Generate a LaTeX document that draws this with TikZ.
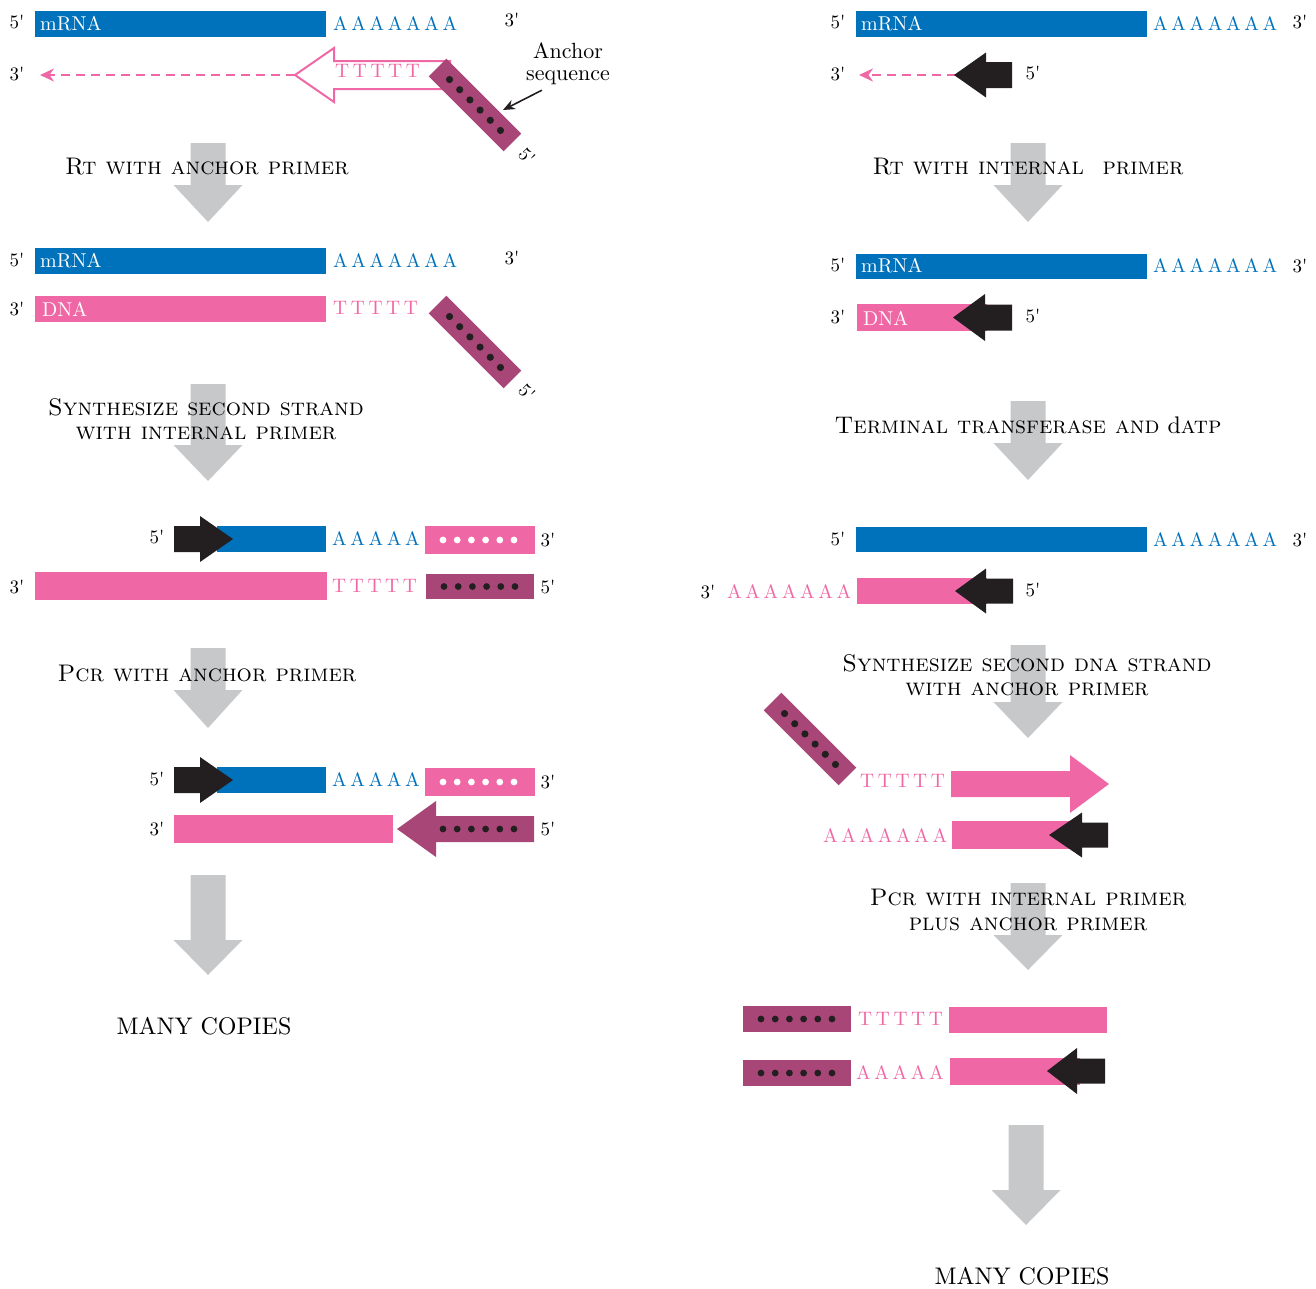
\documentclass[tikz,border=0pt]{standalone}
\usepackage{fontspec}
\setmainfont{lmroman10-regular.otf}[SmallCapsFont=lmromancaps10-regular.otf]
\usetikzlibrary{arrows.meta}

\definecolor{mblue}{RGB}{0,113,187}
\definecolor{mpink}{RGB}{239,104,165}
\definecolor{mpurple}{RGB}{168,71,119}
\definecolor{mblack}{RGB}{35,31,32}
\definecolor{arrowgray}{RGB}{199,200,202}

% letter-spaced base sequence
\newdimen\lspgap \lspgap=3.6pt
\def\lspend{lsp-end}
\newcommand\lsp[1]{\lspgo#1\lspend}
\def\lspgo#1{\ifx#1\lspend\else#1\expandafter\lspnext\fi}
\def\lspnext#1{\ifx#1\lspend\else\kern\lspgap#1\expandafter\lspnext\fi}

% broad grey process arrow: centre x, top y, head start y, tip y
\newcommand\grayarrow[4]{%
  \fill[arrowgray] (#1-17.5,#2) -- (#1+17.5,#2) -- (#1+17.5,#3) -- (#1+34.5,#3)
    -- (#1,#4) -- (#1-34.5,#3) -- (#1-17.5,#3) -- cycle;}

% horizontal block arrow: style, tip x, head base x, tail x, mid y, shaft half height, head half height
\newcommand\hprimer[7]{%
  \path[#1] (#4,#5-#6) -- (#3,#5-#6) -- (#3,#5-#7) -- (#2,#5) -- (#3,#5+#7)
    -- (#3,#5+#6) -- (#4,#5+#6) -- cycle;}

% box with six dots: box colour, dot colour, x1, y1, x2, y2
\newcommand\dotbox[6]{%
  \fill[#1] (#3,#4) rectangle (#5,#6);
  \foreach \k in {0,...,5} \fill[#2] ({#3+18+14.2*\k},{(#4+#6)/2}) circle (3.4pt);}

% tilted anchor sequence: centre x, centre y
\newcommand\anchorbox[2]{%
  \begin{scope}[shift={(#1,#2)}, rotate=-45]
    \fill[mpurple] (-53,-12.5) rectangle (53,12.5);
    \foreach \k in {0,...,5} \fill[mblack] ({-36+14.4*\k},0) circle (3.6pt);
  \end{scope}}

\tikzset{
  endlbl/.style={font=\fontsize{19}{19}\selectfont, inner sep=0pt},
  onbar/.style={font=\fontsize{20}{20}\selectfont, text=white, inner sep=0pt, anchor=west},
  seqblue/.style={font=\fontsize{19.5}{19.5}\selectfont, text=mblue, inner sep=0pt, anchor=west},
  seqpink/.style={font=\fontsize{19.5}{19.5}\selectfont, text=mpink, inner sep=0pt, anchor=west},
  steplbl/.style={font=\fontsize{24}{24.5}\selectfont, align=center, inner sep=0pt},
  copies/.style={font=\fontsize{24}{24}\selectfont, inner sep=0pt},
  pinkdash/.style={mpink, line width=2.4pt, dash pattern=on 9pt off 6pt,
    -{Stealth[length=14pt,width=13pt]}},
  blackprimer/.style={fill=mblack},
}

\begin{document}
\begin{tikzpicture}[x=1pt,y=-1pt]
\useasboundingbox (0,0) rectangle (1316,1288);

%%%%%%%%%%%%%%%% left column: anchor primer at the 3' end
% grey step arrows
\grayarrow{208}{143}{185}{222}
\grayarrow{208}{384}{445}{481}
\grayarrow{208}{648}{690}{728}
\grayarrow{208}{875}{940}{975}

% mRNA with anchor primer annealed to the poly(A) tail
\node[endlbl] (l1five) at (17,22) {5\textquotesingle};
\fill[mblue] (35,11) rectangle (326,37);
\node[onbar] (l1m) at (40,24) {mRNA};
\node[seqblue] (l1A) at (333,24) {\lsp{AAAAAAA}};
\node[endlbl] (l1three) at (512,20) {3\textquotesingle};

\node[endlbl] (l2three) at (17,74) {3\textquotesingle};
\coordinate (l2tip) at (40,75);
\coordinate (l2start) at (295,75);
\draw[pinkdash] (l2start) -- (l2tip);
\hprimer{draw=mpink, fill=white, line width=2pt}{295}{334}{450}{75}{14}{27}
\node[seqpink] (l2T) at (335,71) {\lsp{TTTTT}};
\anchorbox{475}{105}
\coordinate (anc1) at (503,110);
\node[endlbl, rotate=-45] (l2five) at (527,156) {5\textquotesingle};
\node[font=\fontsize{22}{22}\selectfont, align=center, inner sep=0pt] (anchorlbl) at (568,64) {Anchor\\sequence};
\draw[mblack, line width=1.6pt, -{Stealth[length=12pt,width=10pt]}]
  ([xshift=16pt,yshift=-5pt]anchorlbl.south west) -- (anc1);

\node[steplbl] (s1) at (207,167) {\textsc{Rt with anchor primer}};

% first strand made
\node[endlbl] (l3five) at (17,260) {5\textquotesingle};
\fill[mblue] (35,248) rectangle (326,274);
\node[onbar] (l3m) at (40,261) {mRNA};
\node[seqblue] (l3A) at (333,261) {\lsp{AAAAAAA}};
\node[endlbl] (l3three) at (512,258) {3\textquotesingle};

\node[endlbl] (l4three) at (17,309) {3\textquotesingle};
\fill[mpink] (35,296) rectangle (326,322);
\node[onbar] (l4d) at (42,309) {DNA};
\node[seqpink] (l4T) at (333,308) {\lsp{TTTTT}};
\anchorbox{475}{342}
\node[endlbl, rotate=-45] (l4five) at (527,392) {5\textquotesingle};

\node[steplbl] (s2) at (206,419) {\textsc{Synthesize second strand}\\\textsc{with internal primer}};

% second strand from the internal primer
\node[endlbl] (l5five) at (157,537) {5\textquotesingle};
\fill[mblue] (217,526) rectangle (326,552);
\hprimer{blackprimer}{233}{200}{174}{539}{13}{23}
\node[seqblue] (l5A) at (332,539) {\lsp{AAAAA}};
\dotbox{mpink}{white}{425}{526}{535}{554}
\node[endlbl] (l5three) at (548,540) {3\textquotesingle};

\node[endlbl] (l6three) at (17,587) {3\textquotesingle};
\fill[mpink] (35,572) rectangle (327,600);
\node[seqpink] (l6T) at (332,586) {\lsp{TTTTT}};
\dotbox{mpurple}{mblack}{426}{574}{534}{599}
\node[endlbl] (l6five) at (548,587) {5\textquotesingle};

\node[steplbl] (s3) at (207,673) {\textsc{Pcr with anchor primer}};

% PCR with both primers
\node[endlbl] (l7five) at (157,779) {5\textquotesingle};
\fill[mblue] (217,767) rectangle (326,793);
\hprimer{blackprimer}{233}{200}{174}{780}{13}{23}
\node[seqblue] (l7A) at (332,780) {\lsp{AAAAA}};
\dotbox{mpink}{white}{425}{768}{535}{796}
\node[endlbl] (l7three) at (548,782) {3\textquotesingle};

\node[endlbl] (l8three) at (157,829) {3\textquotesingle};
\fill[mpink] (174,815) rectangle (393,843);
\hprimer{fill=mpurple}{397}{436}{534}{829}{13}{28}
\foreach \k in {0,...,5} \fill[mblack] ({443+14.2*\k},829) circle (3.4pt);
\node[endlbl] (l8five) at (548,829) {5\textquotesingle};

\node[copies] (lcopies) at (204,1026) {MANY COPIES};

%%%%%%%%%%%%%%%% right column: internal primer and tailing
\grayarrow{1028}{143}{185}{222}
\grayarrow{1028}{401}{443}{480}
\grayarrow{1028}{645}{702}{738}
\grayarrow{1028}{883}{935}{970}
\grayarrow{1026}{1125}{1190}{1225}

\node[endlbl] (r1five) at (838,22) {5\textquotesingle};
\fill[mblue] (856,11) rectangle (1147,37);
\node[onbar] (r1m) at (861,24) {mRNA};
\node[seqblue] (r1A) at (1153,24) {\lsp{AAAAAAA}};
\node[endlbl] (r1three) at (1300,22) {3\textquotesingle};

\node[endlbl] (r2three) at (838,74) {3\textquotesingle};
\coordinate (r2tip) at (859,75);
\coordinate (r2start) at (956,75);
\draw[pinkdash] (r2start) -- (r2tip);
\hprimer{blackprimer}{954}{986}{1012}{75}{13}{22.5}
\node[endlbl] (r2five) at (1033,73) {5\textquotesingle};

\node[steplbl] (t1) at (1028,167) {\textsc{Rt with internal\hspace{0.4em} primer}};

\node[endlbl] (r3five) at (838,265) {5\textquotesingle};
\fill[mblue] (856,254) rectangle (1147,279);
\node[onbar] (r3m) at (861,266) {mRNA};
\node[seqblue] (r3A) at (1153,266) {\lsp{AAAAAAA}};
\node[endlbl] (r3three) at (1300,266) {3\textquotesingle};

\node[endlbl] (r4three) at (838,317) {3\textquotesingle};
\fill[mpink] (857,304) rectangle (987,331);
\node[onbar] (r4d) at (863,318) {DNA};
\hprimer{blackprimer}{953}{985}{1012}{317.5}{13}{23.5}
\node[endlbl] (r4five) at (1033,316) {5\textquotesingle};

\node[steplbl] (t2) at (1028,425) {\textsc{Terminal transferase and} d\textsc{atp}};

\node[endlbl] (r5five) at (838,539) {5\textquotesingle};
\fill[mblue] (856,527) rectangle (1147,552);
\node[seqblue] (r5A) at (1153,540) {\lsp{AAAAAAA}};
\node[endlbl] (r5three) at (1300,540) {3\textquotesingle};

\node[endlbl] (r6three) at (708,592) {3\textquotesingle};
\node[seqpink] (r6A) at (727,592) {\lsp{AAAAAAA}};
\fill[mpink] (857,578) rectangle (987,604);
\hprimer{blackprimer}{955}{986}{1013}{591}{12.5}{22.5}
\node[endlbl] (r6five) at (1033,590) {5\textquotesingle};

\node[steplbl] (t3) at (1027,675) {\textsc{Synthesize second dna strand}\\\textsc{with anchor primer}};

\anchorbox{810}{739}
\node[seqpink] (r7T) at (860,781) {\lsp{TTTTT}};
\hprimer{fill=mpink}{1109}{1070}{951}{784}{13}{29}

\node[seqpink] (r8A) at (823,836) {\lsp{AAAAAAA}};
\fill[mpink] (952,821) rectangle (1082,849);
\hprimer{blackprimer}{1049}{1082}{1108}{835}{12.5}{22.5}

\node[steplbl] (t4) at (1028,910) {\textsc{Pcr with internal primer}\\\textsc{plus anchor primer}};

\dotbox{mpurple}{mblack}{743}{1006}{851}{1032}
\node[seqpink] (r9T) at (858,1019) {\lsp{TTTTT}};
\fill[mpink] (949,1007) rectangle (1107,1033);

\dotbox{mpurple}{mblack}{743}{1060}{851}{1086}
\node[seqpink] (r10A) at (856,1073) {\lsp{AAAAA}};
\fill[mpink] (950,1058) rectangle (1080,1085);
\hprimer{blackprimer}{1047}{1077}{1105}{1071}{12.5}{23}

\node[copies] (rcopies) at (1022,1276) {MANY COPIES};
\end{tikzpicture}
\end{document}
